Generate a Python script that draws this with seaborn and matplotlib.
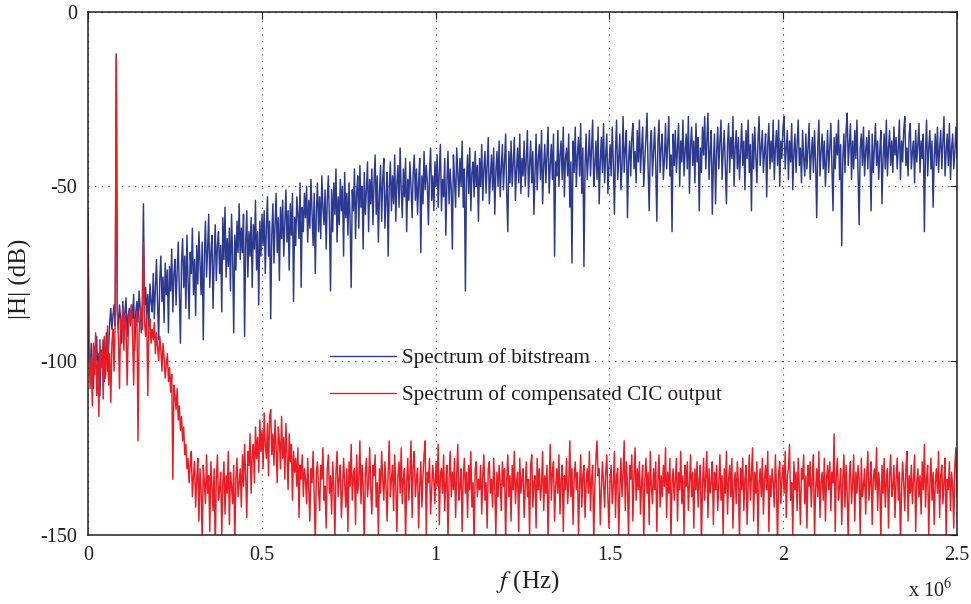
import numpy as np
import pandas as pd
import matplotlib
matplotlib.use("Agg")
import matplotlib.pyplot as plt
import seaborn as sns

# Magnitude spectra in dB on evenly spaced frequency bins from 0 to 2.5 MHz
blue_db = [
    -57, -99, -104, -95, -102, -108, -96, -100, -93, -105, -98, -110, -97, -101, -94, -106, -99, -92, -103, -96,
    -89, -85, -91, -87, -84, -90, -12, -86, -91, -84, -88, -95, -83, -89, -86, -82, -93, -87, -85, -90,
    -84, -88, -81, -97, -86, -83, -89, -80, -85, -92, -82, -55, -84, -79, -87, -81, -90, -78, -83, -86,
    -75, -88, -79, -71, -84, -94, -77, -70, -83, -76, -89, -72, -81, -74, -92, -73, -80, -68, -86, -75,
    -71, -84, -74, -66, -80, -95, -72, -65, -79, -70, -85, -64, -77, -88, -69, -75, -62, -81, -71, -87,
    -67, -78, -63, -72, -81, -66, -94, -70, -60, -76, -68, -58, -79, -69, -64, -85, -71, -61, -77, -67,
    -63, -75, -67, -86, -59, -71, -56, -76, -65, -73, -62, -80, -58, -70, -92, -64, -74, -60, -69, -55,
    -71, -62, -69, -58, -93, -66, -57, -76, -63, -70, -59, -79, -61, -68, -54, -74, -63, -84, -60, -70,
    -58, -67, -57, -75, -62, -53, -70, -60, -88, -64, -55, -72, -61, -52, -69, -59, -77, -56, -65, -54,
    -70, -60, -51, -66, -57, -74, -55, -64, -52, -83, -59, -67, -53, -58, -65, -49, -79, -56, -63, -52,
    -59, -50, -66, -54, -62, -48, -58, -67, -52, -75, -57, -49, -63, -53, -65, -47, -56, -61, -51, -68,
    -54, -47, -60, -80, -51, -63, -49, -58, -45, -66, -53, -61, -48, -57, -50, -70, -46, -59, -52, -64,
    -49, -60, -79, -51, -57, -45, -65, -52, -47, -62, -44, -56, -50, -68, -46, -58, -51, -43, -63, -48,
    -55, -45, -61, -49, -41, -58, -47, -66, -52, -44, -60, -48, -42, -62, -53, -46, -70, -50, -43, -57,
    -47, -55, -41, -60, -49, -44, -56, -39, -51, -59, -45, -53, -42, -63, -48, -54, -43, -50, -59, -46,
    -41, -54, -45, -58, -49, -42, -69, -47, -55, -40, -51, -44, -49, -61, -46, -39, -54, -47, -57, -43,
    -50, -41, -56, -46, -38, -57, -48, -53, -42, -64, -49, -40, -55, -45, -51, -68, -41, -48, -56, -39,
    -46, -53, -42, -50, -37, -56, -45, -80, -48, -41, -52, -39, -57, -46, -43, -53, -40, -50, -44, -60,
    -42, -50, -38, -54, -45, -40, -52, -44, -36, -55, -47, -41, -51, -39, -58, -46, -40, -50, -37, -53,
    -45, -38, -51, -43, -35, -52, -63, -40, -49, -37, -50, -43, -36, -54, -45, -39, -49, -35, -52, -42,
    -47, -37, -50, -42, -34, -53, -44, -37, -49, -40, -58, -46, -35, -51, -42, -38, -48, -34, -55, -44,
    -38, -49, -41, -33, -52, -44, -38, -48, -35, -70, -43, -47, -34, -50, -41, -37, -48, -33, -53, -42,
    -39, -47, -35, -56, -43, -72, -37, -46, -33, -50, -41, -36, -47, -32, -52, -39, -73, -44, -35, -48,
    -42, -34, -47, -39, -31, -50, -44, -37, -48, -33, -55, -43, -36, -46, -32, -49, -41, -35, -52, -44,
    -38, -47, -33, -43, -58, -40, -31, -48, -42, -35, -51, -44, -30, -46, -39, -34, -59, -43, -37, -47,
    -36, -32, -45, -40, -49, -34, -43, -31, -46, -39, -33, -50, -42, -36, -29, -45, -57, -38, -34, -47,
    -40, -33, -44, -60, -37, -31, -46, -39, -35, -48, -42, -32, -45, -38, -30, -47, -41, -63, -35, -44,
    -34, -46, -39, -32, -50, -37, -43, -31, -47, -40, -35, -45, -30, -52, -38, -33, -44, -37, -49, -32,
    -43, -36, -57, -39, -46, -33, -41, -30, -45, -37, -29, -48, -40, -34, -58, -43, -35, -55, -40, -33,
    -45, -37, -31, -48, -40, -34, -44, -55, -38, -32, -46, -36, -42, -30, -50, -39, -34, -45, -36, -48,
    -40, -32, -44, -37, -51, -34, -42, -31, -46, -38, -57, -35, -45, -33, -41, -49, -37, -30, -44, -39,
    -34, -46, -40, -35, -53, -38, -32, -45, -37, -43, -31, -48, -39, -34, -44, -31, -50, -37, -42, -33,
    -30, -45, -39, -34, -48, -37, -43, -32, -51, -40, -35, -46, -38, -31, -44, -39, -49, -34, -42, -47,
    -35, -45, -39, -32, -48, -41, -36, -46, -34, -43, -59, -38, -31, -47, -40, -35, -45, -37, -50, -42,
    -34, -46, -39, -32, -44, -57, -36, -45, -35, -41, -31, -48, -38, -67, -42, -35, -46, -34, -29, -44,
    -38, -32, -48, -37, -45, -34, -42, -31, -46, -61, -39, -35, -44, -33, -47, -40, -36, -45, -34, -42,
    -57, -35, -46, -39, -32, -44, -37, -48, -40, -34, -55, -42, -35, -45, -31, -47, -39, -34, -44, -37,
    -46, -33, -41, -36, -45, -39, -31, -48, -37, -43, -34, -30, -44, -39, -47, -35, -32, -45, -40, -37,
    -49, -34, -43, -38, -32, -46, -37, -42, -35, -63, -40, -31, -47, -39, -34, -45, -37, -56, -42, -35,
    -44, -33, -46, -39, -34, -45, -37, -30, -47, -40, -35, -44, -32, -48, -39, -35, -45, -40, -33, -42,
]

red_db = [
    -63, -96, -108, -99, -113, -95, -104, -92, -110, -100, -116, -94, -102, -97, -111, -93, -105, -99, -90, -107,
    -98, -112, -95, -91, -103, -89, -13, -86, -94, -108, -88, -91, -85, -97, -87, -90, -107, -92, -86, -89,
    -84, -93, -107, -88, -90, -86, -123, -92, -87, -85, -91, -66, -89, -93, -87, -110, -90, -88, -95, -91,
    -94, -89, -98, -92, -96, -100, -93, -97, -103, -95, -99, -105, -101, -98, -106, -102, -109, -104, -134, -107,
    -110, -114, -108, -117, -113, -120, -116, -123, -119, -127, -124, -131, -128, -135, -130, -126, -139, -133, -129, -142,
    -134, -128, -146, -131, -137, -152, -130, -135, -141, -127, -138, -133, -149, -129, -136, -143, -131, -155, -134, -127,
    -140, -137, -132, -150, -135, -129, -144, -133, -138, -126, -147, -132, -136, -141, -130, -153, -134, -128, -139, -135,
    -131, -142, -127, -136, -124, -133, -145, -126, -130, -121, -138, -127, -124, -135, -119, -128, -122, -132, -117, -126,
    -120, -131, -115, -124, -128, -118, -133, -116, -114, -127, -121, -130, -117, -125, -135, -119, -123, -131, -116, -128,
    -122, -134, -118, -127, -137, -121, -129, -124, -140, -126, -132, -128, -136, -125, -145, -130, -134, -127, -139, -131,
    -134, -141, -128, -137, -146, -131, -135, -126, -139, -152, -132, -129, -137, -143, -130, -134, -125, -140, -136, -148,
    -131, -127, -138, -133, -144, -129, -136, -151, -132, -126, -139, -134, -130, -145, -137, -128, -135, -142, -131, -149,
    -129, -136, -124, -140, -133, -131, -147, -127, -138, -134, -123, -141, -130, -136, -153, -132, -128, -139, -135, -125,
    -137, -144, -130, -133, -127, -142, -135, -150, -131, -138, -126, -134, -140, -129, -136, -146, -132, -123, -139, -134,
    -130, -143, -127, -136, -149, -133, -129, -138, -125, -141, -134, -131, -152, -135, -128, -140, -132, -123, -145, -130,
    -126, -139, -134, -131, -148, -136, -129, -142, -133, -127, -123, -150, -132, -135, -128, -144, -137, -130, -134, -141,
    -129, -136, -124, -147, -133, -131, -138, -127, -143, -135, -130, -151, -134, -126, -139, -132, -137, -128, -145, -133,
    -124, -140, -136, -131, -149, -134, -128, -138, -132, -145, -130, -137, -126, -142, -135, -153, -131, -129, -139, -134,
    -137, -130, -144, -133, -127, -140, -135, -148, -131, -129, -138, -134, -142, -128, -136, -150, -132, -139, -130, -135,
    -143, -129, -136, -131, -152, -134, -127, -139, -133, -146, -130, -137, -126, -141, -135, -132, -149, -128, -138, -134,
    -131, -145, -136, -129, -139, -134, -150, -130, -127, -142, -135, -133, -148, -128, -137, -131, -140, -136, -126, -143,
    -133, -138, -130, -151, -135, -124, -140, -132, -129, -146, -136, -131, -138, -127, -144, -134, -130, -149, -133, -137,
    -128, -141, -135, -123, -139, -131, -147, -134, -129, -137, -132, -150, -136, -127, -142, -133, -130, -145, -135, -131,
    -138, -126, -143, -134, -130, -152, -136, -128, -123, -133, -131, -147, -137, -129, -135, -142, -132, -127, -139, -148,
    -134, -130, -141, -136, -126, -145, -133, -131, -150, -137, -128, -139, -132, -123, -143, -129, -136, -151, -130, -134,
    -127, -146, -133, -125, -140, -131, -137, -129, -144, -135, -130, -152, -134, -128, -138, -132, -147, -126, -136, -141,
    -131, -137, -129, -149, -134, -127, -142, -133, -139, -130, -136, -125, -145, -132, -138, -128, -151, -135, -131, -140,
    -134, -128, -146, -132, -137, -126, -141, -133, -150, -130, -136, -129, -143, -135, -127, -139, -132, -148, -131, -137,
    -129, -142, -134, -130, -153, -136, -128, -140, -133, -126, -145, -131, -138, -135, -129, -147, -132, -137, -130, -143,
    -135, -127, -140, -133, -150, -131, -138, -126, -144, -134, -130, -139, -128, -148, -136, -132, -141, -129, -135, -152,
    -131, -137, -128, -143, -134, -130, -147, -136, -127, -140, -133, -125, -146, -132, -138, -129, -150, -135, -131, -139,
    -128, -144, -134, -130, -137, -126, -149, -133, -139, -131, -135, -142, -127, -136, -153, -132, -129, -141, -134, -130,
    -138, -126, -145, -133, -131, -124, -140, -135, -150, -129, -137, -132, -143, -128, -136, -147, -131, -134, -127, -141,
    -133, -148, -130, -136, -129, -142, -134, -127, -151, -137, -131, -139, -126, -145, -135, -132, -140, -128, -146, -134,
    -130, -137, -129, -143, -132, -135, -121, -149, -133, -128, -140, -136, -131, -147, -134, -127, -142, -130, -138, -152,
    -133, -129, -141, -135, -127, -146, -132, -138, -130, -134, -150, -128, -139, -136, -131, -144, -133, -126, -140, -135,
    -129, -147, -134, -131, -137, -125, -143, -132, -136, -151, -130, -138, -128, -142, -135, -131, -148, -133, -127, -139,
    -136, -130, -145, -134, -128, -140, -132, -153, -137, -129, -135, -143, -131, -126, -146, -133, -138, -130, -141, -134,
    -127, -149, -135, -131, -139, -133, -144, -129, -137, -124, -142, -134, -130, -150, -136, -128, -140, -132, -147, -135,
    -131, -138, -126, -145, -133, -130, -141, -135, -128, -151, -134, -137, -129, -143, -132, -136, -148, -130, -125, -139,
]

series_labels = ["Spectrum of bitstream", "Spectrum of compensated CIC output"]
f_max = 2.5e6
x_ticks = [0, 0.5e6, 1.0e6, 1.5e6, 2.0e6, 2.5e6]
x_tick_labels = ["0", "0.5", "1", "1.5", "2", "2.5"]
y_ticks = [-150, -100, -50, 0]
y_tick_labels = ["-150", "-100", "-50", "0"]

frames = []
for label, values in zip(series_labels, [blue_db, red_db]):
    frames.append(pd.DataFrame({
        "freq": np.linspace(0, f_max, len(values)),
        "level": values,
        "series": label,
    }))
df = pd.concat(frames, ignore_index=True)

sns.set_theme(style="white")
plt.rcParams["font.family"] = ["Liberation Serif", "DejaVu Serif"]
plt.rcParams["mathtext.fontset"] = "stix"

text_color = "#231f20"
fig = plt.figure(figsize=(9.71, 6.04), dpi=100)
ax = fig.add_axes([0.0906, 0.1142, 0.8950, 0.8659])

sns.lineplot(data=df, x="freq", y="level", hue="series",
             palette=["#2b3990", "#ed1c24"], estimator=None, sort=False,
             linewidth=1.05, ax=ax)

ax.set_xlim(0, f_max)
ax.set_ylim(-150, 0)
ax.set_xticks(x_ticks)
ax.set_xticklabels(x_tick_labels)
ax.set_yticks(y_ticks)
ax.set_yticklabels(y_tick_labels)

ax.set_axisbelow(True)
ax.grid(True, linestyle=(0, (1, 5)), color="#333333", linewidth=0.8)
for spine in ax.spines.values():
    spine.set_visible(True)
    spine.set_color("#231f20")
    spine.set_linewidth(1.1)
ax.tick_params(direction="in", length=5, width=0.8, top=True, right=True,
               labelsize=14.5, pad=8, colors=text_color)

ax.set_xlabel(r"$f$ (Hz)", fontsize=18, color=text_color)
ax.xaxis.set_label_coords(0.506, -0.063)
ax.set_ylabel("|H| (dB)", fontsize=18, color=text_color)
ax.yaxis.set_label_coords(-0.064, 0.49)

fig.text(952 / 971, 1 - 590 / 604, r"x 10$^6$", ha="right", va="center",
         fontsize=14.5, color=text_color)

handles, labels = ax.get_legend_handles_labels()
leg = ax.legend(handles, labels, loc="center left", bbox_to_anchor=(0.279, 0.303),
                frameon=False, fontsize=15.2, handlelength=3.1, handletextpad=0.3,
                labelspacing=0.8, borderpad=0, borderaxespad=0)
for text in leg.get_texts():
    text.set_color(text_color)
for line in leg.get_lines():
    line.set_linewidth(1.0)

fig.savefig("out.png", dpi=100)
